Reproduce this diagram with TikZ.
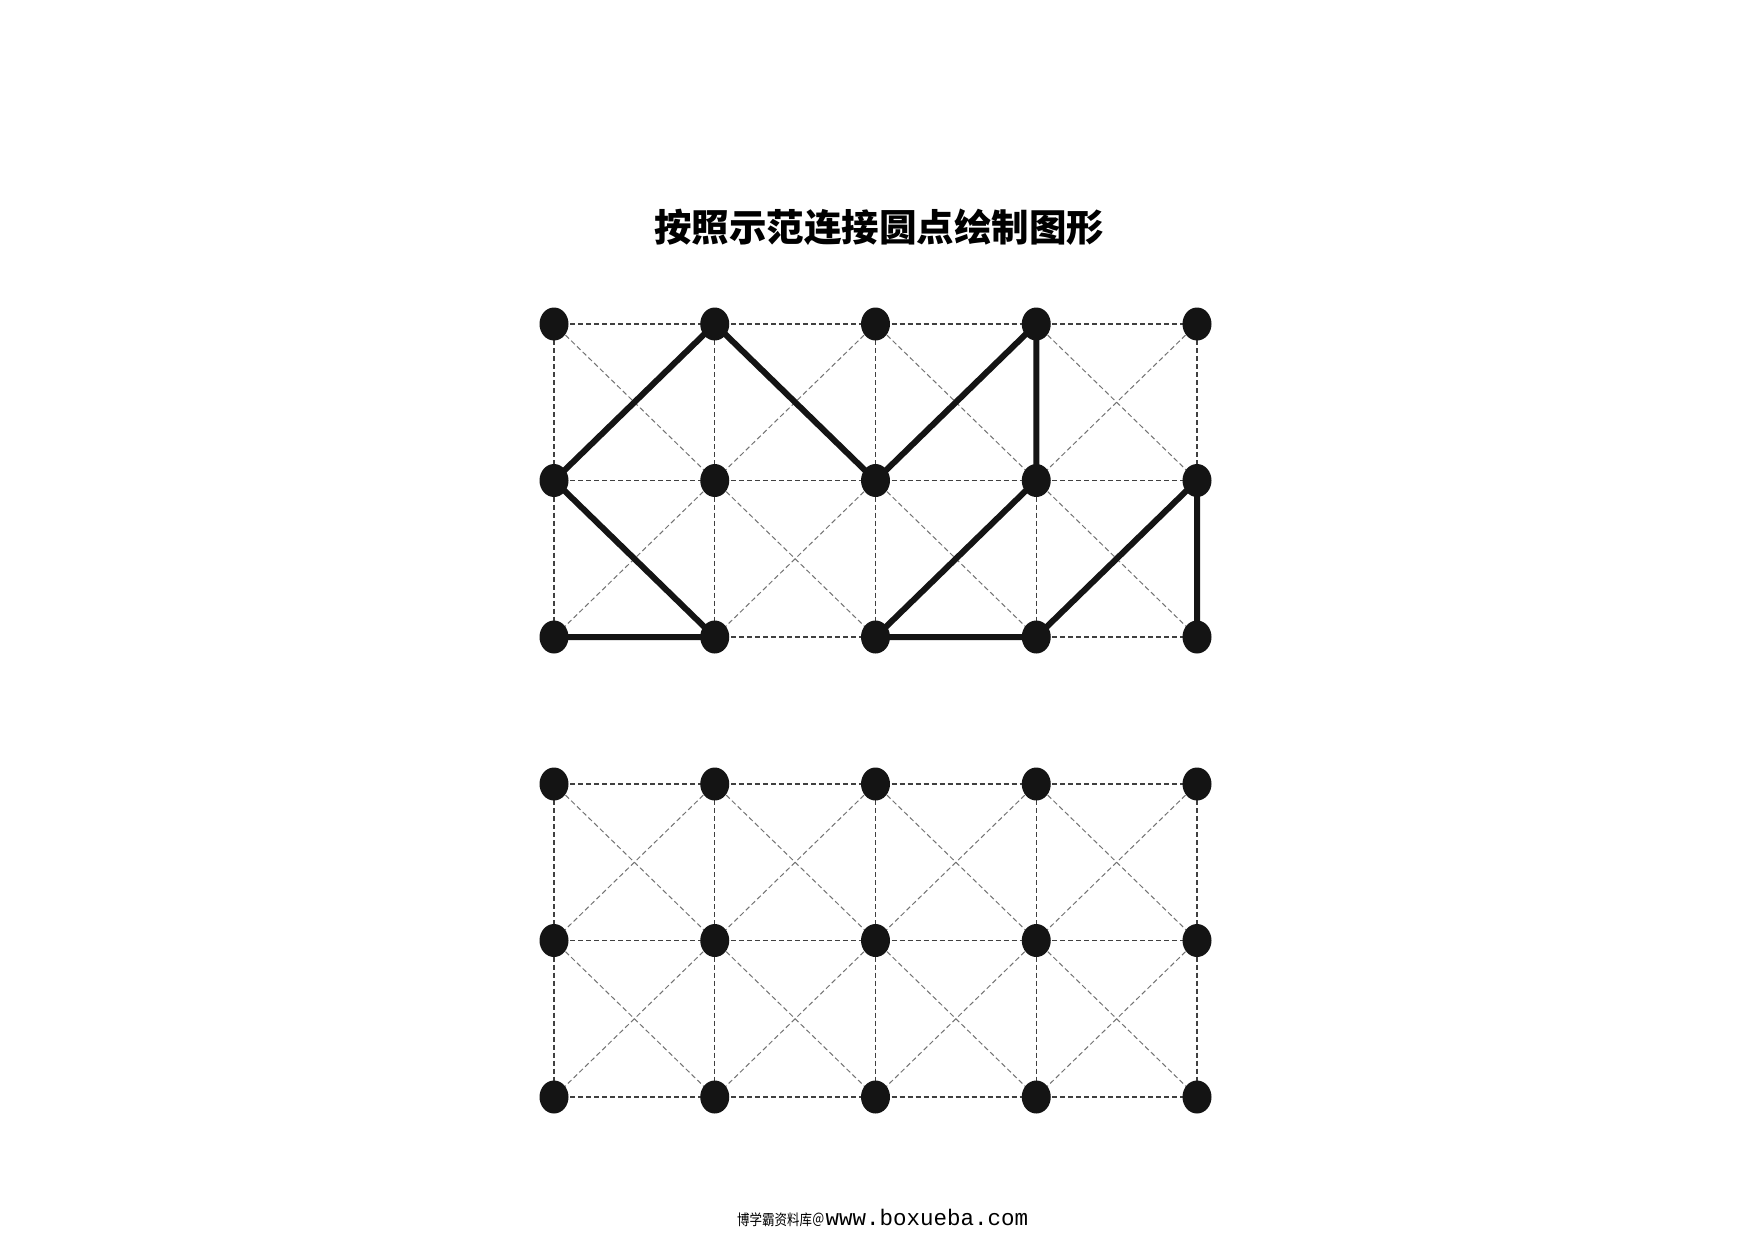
\documentclass[tikz,border=0pt]{standalone}
\usepackage{fontspec}
\setmonofont{Liberation Mono}
\newfontfamily\cjk{Noto Sans CJK SC}
\usetikzlibrary{shapes.geometric}
\pgfdeclarelayer{bg}
\pgfsetlayers{bg,main}
\begin{document}
\begin{tikzpicture}[x=1pt,y=-1pt,
  dot/.style={ellipse,fill=black!92,minimum width=29pt,minimum height=33pt,inner sep=0pt},
  gridh/.style={black!75,line width=1.2pt,dash pattern=on 5pt off 3pt},
  gridd/.style={black!55,line width=1pt,dash pattern=on 5pt off 3pt},
  boldline/.style={line width=6pt,black!92,line cap=round,line join=round}]
\useasboundingbox (0,0) rectangle (1754,1240);
% dots
\foreach \g/\yo in {t/324,b/784}{
  \foreach \i in {0,...,4}{
    \foreach \j in {0,1,2}{
      \node[dot] (\g-\i-\j) at ({554+160.75*\i},{\yo+156.5*\j}) {};
    }
  }
}
\begin{pgfonlayer}{bg}
\fill[white] (0,0) rectangle (1754,1240);
\foreach \g in {t,b}{
  % horizontals
  \foreach \i in {0,...,3}{
    \pgfmathtruncatemacro\k{\i+1}
    \foreach \j in {0,1,2}{
      \draw[gridh] (\g-\i-\j.center) -- (\g-\k-\j.center);
    }
  }
  % verticals
  \foreach \i in {0,...,4}{
    \foreach \j in {0,1}{
      \pgfmathtruncatemacro\jj{\j+1}
      \draw[gridh] (\g-\i-\j.center) -- (\g-\i-\jj.center);
    }
  }
  % diagonals
  \foreach \i in {0,...,3}{
    \pgfmathtruncatemacro\k{\i+1}
    \foreach \j in {0,1}{
      \pgfmathtruncatemacro\jj{\j+1}
      \draw[gridd] (\g-\i-\j.center) -- (\g-\k-\jj.center);
      \draw[gridd] (\g-\k-\j.center) -- (\g-\i-\jj.center);
    }
  }
}
% example figure
\draw[boldline] (t-0-2.center) -- (t-1-2.center) -- (t-0-1.center) -- (t-1-0.center) -- (t-2-1.center) -- (t-3-0.center) -- (t-3-1.center) -- (t-2-2.center) -- (t-3-2.center) -- (t-4-1.center) -- (t-4-2.center);
\end{pgfonlayer}
% texts
\node (title) at (879,227) {\cjk\bfseries\fontsize{37.5pt}{40pt}\selectfont 按照示范连接圆点绘制图形};
\node[anchor=west,inner sep=0pt] (footer) at (737,1218) {\scalebox{1}[1.2]{\cjk\fontsize{12.5pt}{14pt}\selectfont 博学霸资料库＠}\hspace{1pt}{\ttfamily\fontsize{22.5pt}{25pt}\selectfont www.boxueba.com}};
\end{tikzpicture}
\end{document}
